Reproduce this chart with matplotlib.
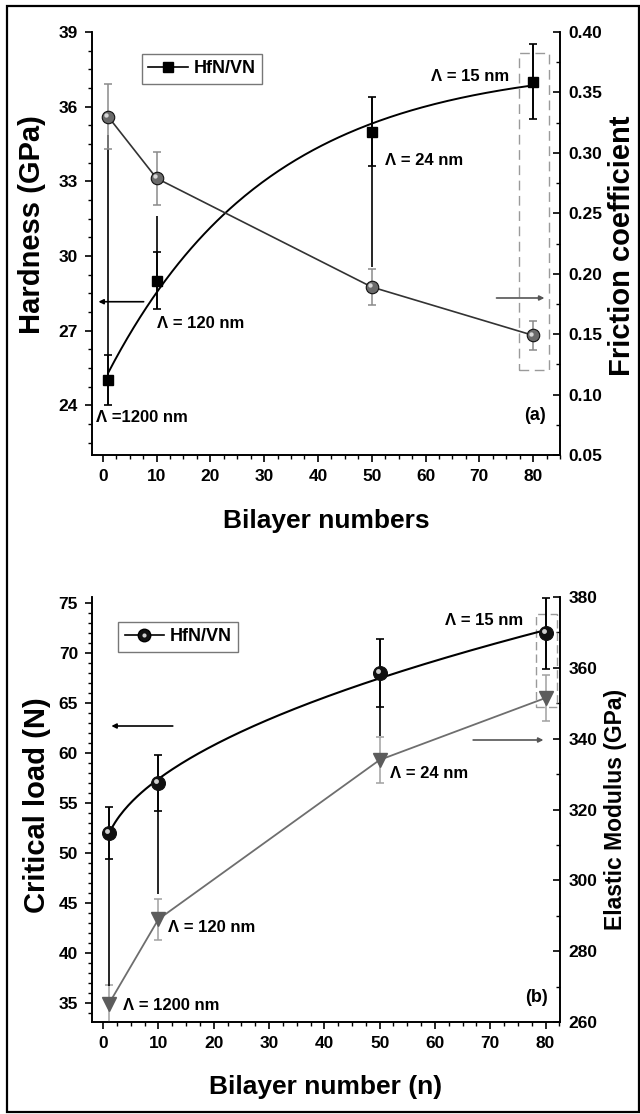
import numpy as np
import matplotlib
matplotlib.use('Agg')
import matplotlib.pyplot as plt
from matplotlib import transforms
from matplotlib.lines import Line2D
from matplotlib.patches import Rectangle
from matplotlib.ticker import MultipleLocator, FormatStrFormatter

plt.rcParams['font.family'] = ['Liberation Sans', 'DejaVu Sans']
plt.rcParams['font.weight'] = 'bold'
plt.rcParams['axes.labelweight'] = 'bold'

# ---- data: panel (a) ----
bilayers = [1, 10, 50, 80]
hardness = [25.0, 29.0, 35.0, 37.0]
hardness_err = [1.0, 1.15, 1.4, 1.5]
# long black lines drawn on the hardness error bars
hard_line_lo = [24.0, 27.85, 29.55, 35.5]
hard_line_hi = [34.85, 31.6, 36.4, 38.5]
friction = [0.330, 0.279, 0.189, 0.149]
friction_err = [0.027, 0.022, 0.015, 0.012]
labels_a = ['Λ =1200 nm', 'Λ = 120 nm', 'Λ = 24 nm', 'Λ = 15 nm']

# ---- data: panel (b) ----
crit_load = [52.0, 57.0, 68.0, 72.0]
crit_err = [2.6, 2.8, 3.4, 3.55]
crit_line_lo = [36.7, 45.9, 61.7, 68.45]
crit_line_hi = [54.6, 59.8, 71.4, 75.55]
modulus = [265.0, 289.0, 334.0, 351.5]
modulus_err = [5.5, 5.8, 6.4, 6.5]
labels_b = ['Λ = 1200 nm', 'Λ = 120 nm', 'Λ = 24 nm', 'Λ = 15 nm']

fig = plt.figure(figsize=(6.4, 11.14), dpi=100)
W, H = 640, 1114


def box(l, t, r, b):
    return [l / W, 1 - b / H, (r - l) / W, (b - t) / H]


def sphere(ax, x, y, face, hl, ms):
    ax.plot(x, y, 'o', ms=ms, mfc=face, mec='#111111', mew=0.8, ls='none', zorder=6)
    off = transforms.offset_copy(ax.transData, fig=fig, x=-ms * 0.14, y=ms * 0.14, units='points')
    ax.plot(x, y, 'o', ms=ms * 0.35, mfc=hl, mec='none', ls='none', transform=off, zorder=7)


def sqrt_fit(x, y, xs):
    # least-squares fit y = a + b*sqrt(x)
    c = np.polyfit(np.sqrt(x), y, 1)
    return np.polyval(c, np.sqrt(xs))


def exp_fit(x, y, xs, t=30.0):
    # least-squares fit y = A + B*exp(-x/t)
    c = np.polyfit(np.exp(-np.asarray(x) / t), y, 1)
    return np.polyval(c, np.exp(-xs / t))


def style(ax, ax2, xlim):
    ax.set_xlim(*xlim)
    for a in (ax, ax2):
        a.spines['top'].set_visible(False)
        for s in a.spines.values():
            s.set_linewidth(1.2)
    ax.xaxis.set_major_locator(MultipleLocator(10))
    ax.xaxis.set_minor_locator(MultipleLocator(2.5))
    ax.tick_params(axis='both', which='major', direction='out', length=5, width=1.2,
                   labelsize=12.5, pad=5)
    ax.tick_params(axis='both', which='minor', direction='out', length=3, width=1)
    ax.tick_params(axis='y', which='both', right=False)
    ax2.tick_params(axis='y', which='major', direction='in', length=5, width=1.2,
                    labelsize=12.5, pad=6)
    ax2.tick_params(axis='y', which='minor', direction='in', length=3, width=1)


def arrow(ax, x0, x1, y, color):
    ax.annotate('', xy=(x1, y), xytext=(x0, y),
                arrowprops=dict(arrowstyle='-|>', color=color, lw=1.2,
                                mutation_scale=7, shrinkA=0, shrinkB=0))


xs = np.linspace(1, 80, 200)

# ================= panel (a) =================
ax1 = fig.add_axes(box(92, 32, 560, 455))
ax2 = ax1.twinx()
style(ax1, ax2, (-2, 85))
ax1.set_ylim(22, 39)
ax1.yaxis.set_major_locator(MultipleLocator(3))
ax1.yaxis.set_minor_locator(MultipleLocator(0.75))
ax2.set_ylim(0.05, 0.40)
ax2.yaxis.set_major_locator(MultipleLocator(0.05))
ax2.yaxis.set_minor_locator(MultipleLocator(0.025))
ax2.yaxis.set_major_formatter(FormatStrFormatter('%.2f'))

ax1.plot(xs, exp_fit(bilayers, hardness, xs), color='k', lw=1.4, zorder=3)
ax1.vlines(bilayers, hard_line_lo, hard_line_hi, color='k', lw=1.2, zorder=3)
ax1.errorbar(bilayers, hardness, yerr=hardness_err, fmt='s', color='k', ms=7.5,
             capsize=3, elinewidth=1.2, capthick=1.2, zorder=5)

ax2.plot(bilayers, friction, color='#333333', lw=1.2, zorder=4)
ax2.errorbar(bilayers, friction, yerr=friction_err, fmt='none', ecolor='#8a8a8a',
             capsize=2.8, elinewidth=1.1, capthick=1.1, zorder=4)
sphere(ax2, bilayers, friction, '#6a6a6a', '#d8d8d8', 9)

ax1.text(-1.2, 23.5, labels_a[0], fontsize=12, ha='left', va='center')
ax1.text(10.0, 27.3, labels_a[1], fontsize=12, ha='left', va='center')
ax1.text(52.5, 33.85, labels_a[2], fontsize=12, ha='left', va='center')
ax1.text(75.5, 37.2, labels_a[3], fontsize=12, ha='right', va='center')
ax1.text(80.3, 23.6, '(a)', fontsize=13, ha='center', va='center')

arrow(ax1, 7.6, -0.8, 28.16, 'k')
arrow(ax1, 73.2, 82.1, 28.31, '#555555')
ax1.add_patch(Rectangle((77.3, 25.4), 5.6, 12.77, fill=False, ec='#9a9a9a', lw=1.0,
                        ls=(0, (7, 4)), zorder=2))

leg = ax1.legend([Line2D([], [], color='k', marker='s', ms=7.5, lw=1.2)], ['HfN/VN'],
                 loc='upper left', bbox_to_anchor=(0.107, 0.948), fontsize=13,
                 frameon=True, fancybox=False, edgecolor='#555555', handlelength=2.2,
                 handletextpad=0.3, borderpad=0.35, borderaxespad=0)
leg.get_frame().set_linewidth(1.0)

ax1.set_ylabel('Hardness (GPa)', fontsize=21, va='center')
ax1.yaxis.set_label_coords(-0.128, 0.544)
ax2.set_ylabel('Friction coefficient', fontsize=21, va='center')
ax2.yaxis.set_label_coords(1.132, 0.494)
ax1.set_xlabel('Bilayer numbers', fontsize=19, va='center')
ax1.xaxis.set_label_coords(0.5, -0.156)

# ================= panel (b) =================
ax3 = fig.add_axes(box(92, 597, 560, 1022))
ax4 = ax3.twinx()
ax3.set_zorder(ax4.get_zorder() + 1)
ax3.patch.set_visible(False)
style(ax3, ax4, (-2, 82.6))
ax3.set_ylim(33.1, 75.6)
ax3.yaxis.set_major_locator(MultipleLocator(5))
ax3.yaxis.set_minor_locator(MultipleLocator(1))
ax4.set_ylim(260, 380)
ax4.yaxis.set_major_locator(MultipleLocator(20))
ax4.yaxis.set_minor_locator(MultipleLocator(10))

ax4.plot(bilayers, modulus, color='#6e6e6e', lw=1.3, zorder=3)
ax4.errorbar(bilayers, modulus, yerr=modulus_err, fmt='none', ecolor='#a0a0a0',
             capsize=2.8, elinewidth=1.1, capthick=1.1, zorder=3)
ax4.plot(bilayers, modulus, 'v', ms=9.5, mfc='#5c5c5c', mec='#5c5c5c', ls='none', zorder=5)

ax3.plot(xs, sqrt_fit(bilayers, crit_load, xs), color='k', lw=1.5, zorder=3)
ax3.vlines(bilayers, crit_line_lo, crit_line_hi, color='k', lw=1.2, zorder=3)
ax3.errorbar(bilayers, crit_load, yerr=crit_err, fmt='none', ecolor='k',
             capsize=3, elinewidth=1.2, capthick=1.2, zorder=4)
sphere(ax3, bilayers, crit_load, '#111111', '#cfcfcf', 10)

ax3.text(3.6, 34.8, labels_b[0], fontsize=12, ha='left', va='center')
ax3.text(11.7, 42.5, labels_b[1], fontsize=12, ha='left', va='center')
ax3.text(51.9, 57.9, labels_b[2], fontsize=12, ha='left', va='center')
ax3.text(76.0, 73.2, labels_b[3], fontsize=12, ha='right', va='center')
ax3.text(78.4, 35.6, '(b)', fontsize=13, ha='center', va='center')

arrow(ax3, 12.6, 1.5, 62.7, 'k')
arrow(ax3, 66.9, 79.6, 61.3, '#555555')
ax3.add_patch(Rectangle((78.2, 64.6), 3.9, 9.3, fill=False, ec='#9a9a9a', lw=1.0,
                        ls=(0, (6, 3)), zorder=2))

h1 = Line2D([], [], color='k', marker='o', ms=9, mfc='#111111', lw=1.2)
h2 = Line2D([], [], color='none', marker='o', ms=3, mfc='#cfcfcf', mec='none', lw=0)
leg = ax3.legend([(h1, h2)], ['HfN/VN'], loc='upper left', bbox_to_anchor=(0.056, 0.941),
                 fontsize=13, frameon=True, fancybox=False, edgecolor='#555555',
                 handlelength=2.2, handletextpad=0.3, borderpad=0.35, borderaxespad=0)
leg.get_frame().set_linewidth(1.0)

ax3.set_ylabel('Critical load (N)', fontsize=21, va='center')
ax3.yaxis.set_label_coords(-0.118, 0.51)
ax4.set_ylabel('Elastic Modulus (GPa)', fontsize=16.5, va='center')
ax4.yaxis.set_label_coords(1.118, 0.5)
ax3.set_xlabel('Bilayer number (n)', fontsize=19, va='center')
ax3.xaxis.set_label_coords(0.5, -0.153)

# outer frame around the whole figure
fig.add_artist(Rectangle((7 / W, 2 / H), 632 / W, 1106 / H, transform=fig.transFigure,
                         fill=False, ec='k', lw=1.6))

fig.savefig('out.png', dpi=100)
